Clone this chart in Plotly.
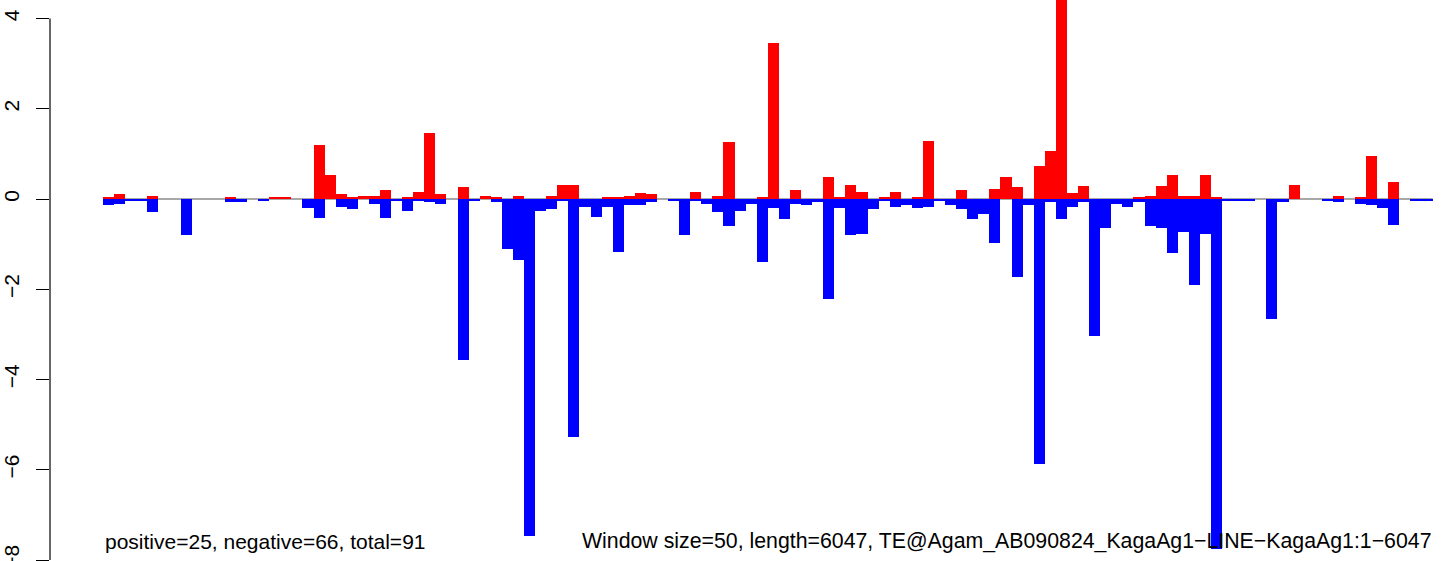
import plotly.graph_objects as go

window_size = 50
seq_length = 6047

positive = [0.044, 0.11, 0, 0, 0.066, 0, 0, 0, 0, 0,
            0, 0.044, 0, 0, 0, 0.044, 0.044, 0, 0, 1.19,
            0.53, 0.11, 0.044, 0.066, 0.066, 0.20, 0, 0.044, 0.155, 1.46,
            0.11, 0, 0.265, 0, 0.066, 0.044, 0, 0.066, 0, 0,
            0.066, 0.31, 0.31, 0, 0, 0.044, 0.044, 0.066, 0.13, 0.11,
            0, 0, 0, 0.155, 0, 0.066, 1.26, 0, 0, 0.044,
            3.45, 0, 0.20, 0, 0, 0.49, 0.044, 0.31, 0.155, 0,
            0.044, 0.155, 0, 0.044, 1.28, 0, 0, 0.20, 0, 0,
            0.22, 0.49, 0.265, 0, 0.73, 1.06, 4.8, 0.13, 0.29, 0,
            0, 0, 0, 0.044, 0.066, 0.29, 0.53, 0.066, 0.066, 0.53,
            0.044, 0, 0, 0, 0, 0, 0, 0.31, 0, 0,
            0, 0.066, 0, 0.044, 0.95, 0, 0.38, 0, 0, 0]

negative = [-0.13, -0.11, -0.044, -0.044, -0.29, 0, 0, -0.80, 0, 0,
            0, -0.066, -0.066, 0, -0.044, 0, 0, 0, -0.20, -0.42,
            0, -0.18, -0.22, 0, -0.11, -0.42, -0.044, -0.27, -0.044, -0.066,
            -0.11, 0, -3.56, -0.044, 0, -0.066, -1.10, -1.35, -7.47, -0.27,
            -0.22, -0.044, -5.27, -0.18, -0.40, -0.18, -1.17, -0.13, -0.13, -0.066,
            0, -0.044, -0.80, -0.044, -0.11, -0.29, -0.60, -0.27, -0.11, -1.39,
            -0.20, -0.44, -0.11, -0.13, -0.066, -2.21, -0.20, -0.80, -0.77, -0.22,
            -0.044, -0.18, -0.13, -0.20, -0.18, -0.044, -0.13, -0.22, -0.44, -0.33,
            -0.97, 0, -1.72, -0.13, -5.88, -0.066, -0.44, -0.18, -0.066, -3.03,
            -0.64, -0.11, -0.18, -0.066, -0.60, -0.64, -1.19, -0.73, -1.90, -0.77,
            -7.76, -0.044, -0.044, -0.044, 0, -2.67, -0.066, 0, 0, 0,
            -0.044, -0.066, 0, -0.11, -0.13, -0.20, -0.57, 0, -0.044, -0.044]

y_ticks = [4, 2, 0, -2, -4, -6, -8]
y_tick_labels = ["4", "2", "0", "\u22122", "\u22124", "\u22126", "\u22128"]

left_text = "positive=25, negative=66, total=91"
right_text = ("Window size=50, length=6047, "
              "TE@Agam_AB090824_KagaAg1\u2212LINE\u2212KagaAg1:1\u22126047")

n = len(positive)
x_centers = [i * window_size + window_size / 2 for i in range(n)]

fig = go.Figure()
fig.add_trace(go.Bar(x=x_centers, y=positive, width=window_size,
                     marker=dict(color="#FF0000", line=dict(width=0)),
                     showlegend=False, hoverinfo="x+y"))
fig.add_trace(go.Bar(x=x_centers, y=negative, width=window_size,
                     marker=dict(color="#0000FF", line=dict(width=0)),
                     showlegend=False, hoverinfo="x+y"))

# zero line
fig.add_shape(type="line", xref="x", yref="y", x0=0, x1=n * window_size,
              y0=0, y1=0, line=dict(color="#A8A8A8", width=2), layer="below")
# y axis line from first to last tick (R style)
fig.add_shape(type="line", xref="paper", yref="y", x0=0, x1=0,
              y0=min(y_ticks), y1=max(y_ticks),
              line=dict(color="black", width=1.2))

font_family = "Liberation Sans, Arial, sans-serif"

fig.add_annotation(x=0, y=-7.58, xref="x", yref="y", text=left_text,
                   showarrow=False, xanchor="left", yanchor="middle",
                   font=dict(family=font_family, size=21, color="black"))
fig.add_annotation(x=n * window_size, y=-7.58, xref="x", yref="y", text=right_text,
                   showarrow=False, xanchor="right", yanchor="middle",
                   font=dict(family=font_family, size=21.3, color="black"))

px_per_bp = 11.08 / window_size
left_px = 50
x0 = -(103 - left_px) / px_per_bp
x1 = (1444 - 103) / px_per_bp
unit_px = 45.125

fig.update_layout(
    width=1444, height=561,
    margin=dict(l=left_px, r=0, t=0, b=0, autoexpand=False),
    paper_bgcolor="white", plot_bgcolor="white",
    barmode="overlay", bargap=0,
    xaxis=dict(range=[x0, x1], visible=False, showgrid=False, zeroline=False),
    yaxis=dict(range=[-(561 - 199) / unit_px, 199 / unit_px], showgrid=False,
               zeroline=False, showline=False, tickmode="array", tickvals=y_ticks,
               ticktext=y_tick_labels, ticks="outside", ticklen=13,
               tickwidth=1.2, tickcolor="black", tickangle=-90,
               ticklabelstandoff=9, automargin=False, ticklabeloverflow="allow",
               tickfont=dict(family=font_family, size=21, color="black")),
    font=dict(family=font_family),
)

fig.write_html("out.html",
               config={"displayModeBar": False},
               post_script="document.body.style.margin='0';"
                           "document.body.style.overflow='hidden';")
